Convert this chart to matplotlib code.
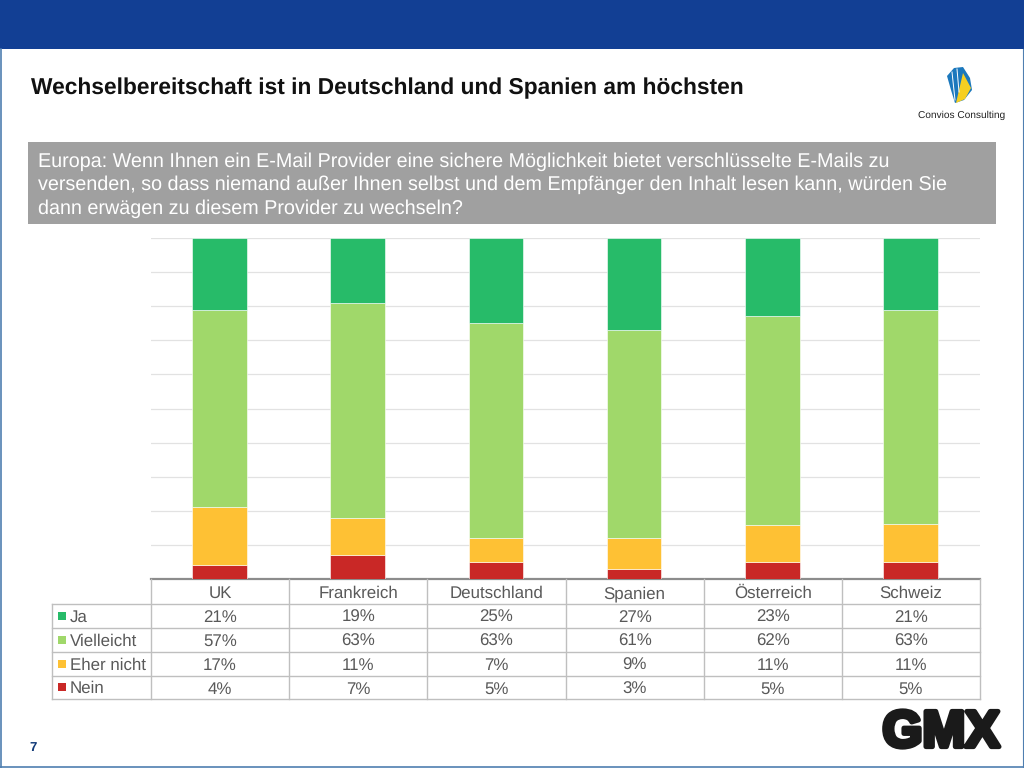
import numpy as np
import matplotlib
matplotlib.use('Agg')
import matplotlib.pyplot as plt
import matplotlib.patheffects as pe
from matplotlib.patches import Polygon, Rectangle

plt.rcParams['font.family'] = ['Liberation Sans', 'DejaVu Sans']
plt.rcParams['text.hinting'] = 'no_hinting'

title = 'Wechselbereitschaft ist in Deutschland und Spanien am höchsten'
question = ['Europa: Wenn Ihnen ein E-Mail Provider eine sichere Möglichkeit bietet verschlüsselte E-Mails zu',
            'versenden, so dass niemand außer Ihnen selbst und dem Empfänger den Inhalt lesen kann, würden Sie',
            'dann erwägen zu diesem Provider zu wechseln?']

countries = ['UK', 'Frankreich', 'Deutschland', 'Spanien', 'Österreich', 'Schweiz']
nein = [4, 7, 5, 3, 5, 5]
eher_nicht = [17, 11, 7, 9, 11, 11]
vielleicht = [57, 63, 63, 61, 62, 63]
ja = [21, 19, 25, 27, 23, 21]
series_names = ['Ja', 'Vielleicht', 'Eher nicht', 'Nein']

GREEN = '#27bb69'
LIGHT = '#a0d86a'
ORANGE = '#fec134'
RED = '#c92826'
TEXT = '#595959'
GRID = '#bfbfbf'

W, H = 1024, 768


def pixelAxes(fig):
    # overlay with y going down, one unit per pixel of the slide
    ax = fig.add_axes([0, 0, 1, 1])
    ax.set_xlim(0, W)
    ax.set_ylim(H, 0)
    ax.axis('off')
    return ax


def plotBars(fig):
    left, right, top, bottom = 150.5, 979.5, 238, 579
    ax = fig.add_axes([left / W, 1 - bottom / H, (right - left) / W, (bottom - top) / H])
    rows = np.array([nein, eher_nicht, vielleicht, ja], dtype=float)
    shares = rows / rows.sum(axis=0)
    x = np.arange(len(countries))
    base = np.zeros(len(countries))
    for share, color in zip(shares, [RED, ORANGE, LIGHT, GREEN]):
        ax.bar(x, share, 0.395, bottom=base, color=color, edgecolor='white', linewidth=0.4, zorder=3)
        base += share
    ax.set_xlim(-0.5, len(countries) - 0.5)
    ax.set_ylim(0, 1)
    ax.set_yticks(np.arange(0, 1.01, 0.1))
    ax.set_xticks([])
    ax.tick_params(axis='y', length=0, labelleft=False)
    ax.grid(axis='y', color='#e2e2e2', linewidth=0.9, zorder=0)
    ax.set_axisbelow(True)
    for side in ['top', 'right', 'left']:
        ax.spines[side].set_visible(False)
    ax.spines['bottom'].set_color('#8c8c8c')
    ax.spines['bottom'].set_linewidth(1.6)
    ax.patch.set_alpha(0)
    return ax


def plotTable(ax):
    col_x = np.linspace(151, 980, len(countries) + 1)
    row_y = [579, 604, 628, 652, 676, 699]
    label_x = 52
    # frame of the data table
    for y in row_y[1:]:
        ax.plot([label_x, 980], [y, y], color=GRID, lw=1.0)
    for x in col_x:
        ax.plot([x, x], [579, 699], color=GRID, lw=1.0)
    ax.plot([label_x, label_x], [604, 699], color=GRID, lw=1.0)

    centers = (col_x[:-1] + col_x[1:]) / 2
    for c, name in zip(centers, countries):
        ax.text(c, 598, name, ha='center', va='baseline', fontsize=12.2, color=TEXT)

    columns = [ja, vielleicht, eher_nicht, nein]
    for i, (name, vals, color) in enumerate(zip(series_names, columns, [GREEN, LIGHT, ORANGE, RED])):
        yc = (row_y[i + 1] + row_y[i + 2]) / 2
        ax.add_patch(Rectangle((58, yc - 4.5), 8, 8, color=color, lw=0))
        ax.text(70, yc + 5.5, name, ha='left', va='baseline', fontsize=12.2, color=TEXT)
        for c, v in zip(centers, vals):
            ax.text(c, yc + 6, f'{v}%', ha='center', va='baseline', fontsize=12.2, color=TEXT)


def plotSlide(ax):
    ax.add_patch(Rectangle((0, 0), W, 49, color='#123f94', lw=0))
    ax.plot([1, 1], [49, H], color='#4f7fb0', lw=1.2)
    ax.plot([0, W], [H - 0.6, H - 0.6], color='#4f7fb0', lw=1.2)
    ax.plot([W - 0.6, W - 0.6], [49, H], color='#4f7fb0', lw=0.8)
    ax.text(31, 88.5, title, ha='left', va='center', fontsize=16.35, fontweight='bold', color='#111111')
    ax.add_patch(Rectangle((28, 142), 968, 82, color='#a0a0a0', lw=0))
    for i, line in enumerate(question):
        ax.text(38, 167 + i * 23.3, line, ha='left', va='baseline', fontsize=14.24, color='white')
    ax.text(33, 748, '7', ha='center', va='center', fontsize=9.5, fontweight='bold', color='#123a78')

    # logos
    ax.text(941, 733.5, 'GMX', ha='center', va='center', fontsize=37, fontweight='bold', color='#1a1a1a',
            path_effects=[pe.withStroke(linewidth=3.5, foreground='#1a1a1a')])
    ax.add_patch(Polygon([(947, 76), (954, 68), (963, 67), (970, 78), (972, 90), (964, 100), (955, 103),
                          (951, 90)], closed=True, color='#1b78bd', lw=0))
    ax.add_patch(Polygon([(956, 103), (963, 73), (971, 88), (965, 99)], closed=True, color='#f6cf21', lw=0))
    ax.plot([952, 955], [72, 100], color='white', lw=0.7)
    ax.plot([957, 959], [69, 92], color='white', lw=0.7)
    ax.text(961.5, 115, 'Convios Consulting', ha='center', va='center', fontsize=7.3, color='#222222')


fig = plt.figure(figsize=(W / 100, H / 100), dpi=100)
plotBars(fig)
overlay = pixelAxes(fig)
plotSlide(overlay)
plotTable(overlay)
fig.savefig('out.png', dpi=100)
